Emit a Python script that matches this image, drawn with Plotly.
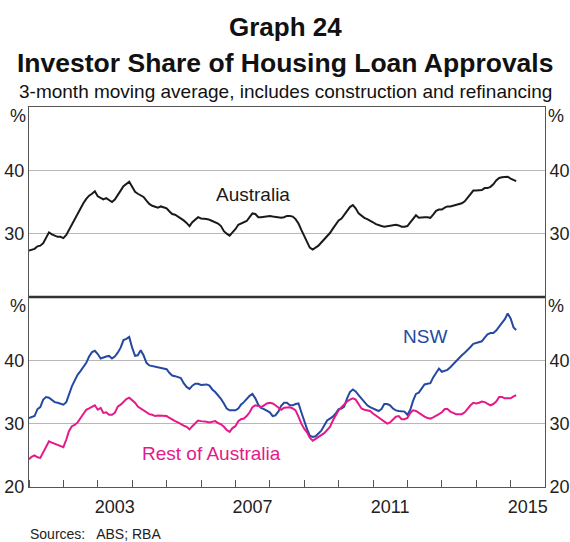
import pandas as pd
import plotly.graph_objects as go

# Monthly data, January 2001 to March 2015 (per cent)
months = pd.date_range("2001-01-01", periods=171, freq="MS")

australia = [
    27.35, 27.5, 27.6, 28.0, 28.1, 28.5, 29.3, 30.2, 29.9, 29.7, 29.5, 29.5,   # 2001
    29.3, 29.8, 30.6, 31.5, 32.3, 33.0, 34.0, 34.8, 35.5, 36.0, 36.3, 36.7,    # 2002
    35.9, 35.7, 35.4, 35.6, 35.3, 35.0, 35.4, 36.2, 36.8, 37.5, 37.8, 38.2,    # 2003
    37.4, 36.6, 36.3, 36.1, 35.8, 35.2, 34.7, 34.4, 34.3, 34.1, 34.3, 34.2,    # 2004
    34.0, 33.5, 33.1, 33.0, 32.7, 32.5, 32.1, 31.7, 31.2, 31.8, 32.2, 32.6,    # 2005
    32.4, 32.4, 32.3, 32.2, 32.0, 31.9, 31.6, 31.2, 30.4, 30.0, 29.7, 30.2,    # 2006
    30.7, 31.4, 31.6, 31.7, 32.0, 32.6, 33.2, 33.1, 32.6, 32.6, 32.7, 32.8,    # 2007
    32.8, 32.7, 32.6, 32.5, 32.5, 32.6, 32.8, 32.8, 32.7, 32.3, 31.6, 30.6,    # 2008
    29.6, 28.7, 27.8, 27.5, 27.8, 28.1, 28.6, 29.1, 29.6, 30.1, 30.8, 31.4,    # 2009
    32.1, 32.4, 33.0, 33.7, 34.2, 34.5, 34.0, 33.2, 32.8, 32.5, 32.3, 32.1,    # 2010
    31.8, 31.5, 31.3, 31.2, 31.1, 31.2, 31.2, 31.3, 31.4, 31.3, 31.1, 31.1,    # 2011
    31.2, 31.8, 32.3, 32.9, 32.5, 32.6, 32.6, 32.6, 32.5, 33.0, 33.6, 33.8,    # 2012
    33.8, 34.1, 34.3, 34.3, 34.4, 34.5, 34.6, 34.8, 35.1, 35.7, 36.2, 36.8,    # 2013
    36.8, 36.9, 36.9, 37.2, 37.2, 37.4, 37.8, 38.4, 38.8, 38.9, 39.0, 39.0,    # 2014
    38.7, 38.5, 38.3,                                                          # 2015
]

nsw = [
    30.9, 31.0, 31.2, 32.3, 32.6, 33.8, 34.2, 34.1, 33.8, 33.4, 33.3, 33.1,    # 2001
    33.0, 33.4, 34.6, 35.9, 36.8, 37.7, 38.3, 38.9, 39.6, 40.6, 41.3, 41.5,    # 2002
    41.0, 40.3, 40.5, 40.6, 40.7, 40.3, 40.6, 41.2, 42.0, 43.2, 43.4, 43.7,    # 2003
    42.0, 40.7, 40.8, 41.6, 40.8, 39.6, 39.2, 39.1, 39.0, 39.0, 38.9, 38.8,    # 2004
    38.6, 38.0, 37.6, 37.5, 37.4, 37.2, 36.4, 35.8, 35.5, 36.0, 36.3, 36.3,    # 2005
    36.1, 36.1, 36.2, 36.0, 35.4, 35.0, 34.5, 33.9, 33.2, 32.4, 32.1, 32.1,    # 2006
    32.1, 32.4, 33.0, 33.4, 33.9, 34.4, 34.7, 34.0, 33.0, 32.5, 32.3, 32.0,    # 2007
    31.8, 31.2, 31.3, 31.9, 32.8, 33.3, 33.3, 32.9, 32.9, 33.1, 33.2, 31.8,    # 2008
    30.3, 29.1, 28.1, 27.9, 28.0, 28.4, 28.9, 29.7, 30.5, 30.8, 31.1, 31.6,    # 2009
    32.3, 32.4, 32.7, 34.0, 35.0, 35.4, 35.1, 34.5, 33.9, 33.4, 32.9, 32.6,    # 2010
    32.4, 32.2, 32.0, 32.3, 33.1, 33.1, 32.9, 32.4, 32.1, 32.0, 32.0, 31.9,    # 2011
    31.4, 32.2, 33.6, 34.7, 34.9, 35.6, 36.2, 36.3, 36.4, 37.3, 38.1, 38.7,    # 2012
    38.2, 38.3, 38.5, 38.9, 39.4, 39.9, 40.4, 40.8, 41.2, 41.6, 42.1, 42.6,    # 2013
    42.7, 42.8, 43.0, 43.6, 44.1, 44.3, 44.3, 44.7, 45.4, 45.9, 46.5, 47.4,    # 2014
    46.6, 45.2, 44.8,                                                          # 2015
]

rest_of_australia = [
    24.4, 24.8, 25.0, 24.7, 24.6, 25.4, 26.2, 27.2, 27.0, 26.8, 26.7, 26.5,    # 2001
    26.3, 27.5, 28.8, 29.6, 29.8, 30.2, 30.8, 31.5, 32.2, 32.4, 32.6, 32.9,    # 2002
    32.2, 32.5, 31.7, 31.8, 31.4, 31.4, 31.7, 32.7, 33.0, 33.4, 33.9, 34.1,    # 2003
    33.7, 33.3, 32.7, 32.4, 32.0, 31.8, 31.5, 31.4, 31.2, 31.3, 31.3, 31.2,    # 2004
    31.2, 30.9, 30.6, 30.4, 30.2, 29.9, 29.7, 29.5, 29.1, 29.6, 30.1, 30.5,    # 2005
    30.4, 30.4, 30.3, 30.2, 30.3, 30.4, 30.1, 29.9, 29.5, 29.0, 28.7, 29.3,    # 2006
    29.6, 30.4, 30.7, 30.8, 31.2, 31.8, 32.6, 32.9, 32.8, 32.6, 32.9, 33.2,    # 2007
    33.3, 33.2, 32.9, 32.5, 32.2, 32.5, 32.6, 32.6, 32.4, 32.1, 31.1, 30.0,    # 2008
    29.2, 28.6, 27.8, 27.3, 27.6, 27.9, 28.2, 28.5, 29.0, 29.5, 30.5, 31.3,    # 2009
    32.1, 32.6, 33.1, 33.5, 33.8, 34.0, 33.8, 33.0, 32.4, 32.2, 32.1, 32.0,    # 2010
    31.6, 31.3, 31.0, 30.6, 30.3, 30.0, 30.2, 30.6, 31.1, 31.2, 30.7, 30.7,    # 2011
    30.9, 31.7, 32.1, 32.0, 31.7, 31.3, 31.1, 30.9, 30.8, 31.0, 31.2, 31.5,    # 2012
    31.8, 32.3, 32.3, 31.9, 31.7, 31.5, 31.5, 31.5, 31.8, 32.4, 32.9, 33.3,    # 2013
    33.2, 33.3, 33.5, 33.4, 33.2, 32.9, 33.1, 33.5, 34.2, 34.2, 34.0, 34.0,    # 2014
    34.0, 34.3, 34.5,                                                          # 2015
]

year_label_pos = ["2003-07-01", "2007-07-01", "2011-07-01", "2015-07-01"]
year_labels = ["2003", "2007", "2011", "2015"]
y_ticks_top = [30, 40]
y_ticks_bottom = [20, 30, 40]

BLACK = "#1a1a1a"
BLUE = "#2549a0"
PINK = "#e5198a"
FRAME = "#555555"
GRID = "#b8b8b8"
FONT = "Liberation Sans, Arial, sans-serif"

ML, MR, MT, MB = 29, 25, 107, 55
W, H = 570, 542
PH = H - MT - MB  # plot height in px
PW = W - ML - MR


def py(ypx):
    """pixel y from the top of the figure -> paper coordinate"""
    return (H - MB - ypx) / PH


def px(xpx):
    return (xpx - ML) / PW


fig = go.Figure()
fig.add_trace(go.Scatter(x=months, y=australia, mode="lines", line=dict(color=BLACK, width=2),
                         xaxis="x", yaxis="y", name="Australia"))
fig.add_trace(go.Scatter(x=months, y=nsw, mode="lines", line=dict(color=BLUE, width=2),
                         xaxis="x2", yaxis="y2", name="NSW"))
fig.add_trace(go.Scatter(x=months, y=rest_of_australia, mode="lines", line=dict(color=PINK, width=2),
                         xaxis="x2", yaxis="y2", name="Rest of Australia"))

xr = ["2001-01-01", "2016-01-01"]
tickfont = dict(family=FONT, size=18, color="#222222")

fig.update_layout(
    width=W, height=H,
    margin=dict(l=ML, r=MR, t=MT, b=MB, autoexpand=False),
    paper_bgcolor="white", plot_bgcolor="white",
    showlegend=False,
    font=dict(family=FONT, color="#222222"),
    xaxis=dict(domain=[0, 1], anchor="y", range=xr, type="date", showticklabels=False,
               ticks="", showgrid=False, zeroline=False, showline=True, mirror=True,
               linecolor=FRAME, linewidth=1, matches="x2", automargin=False),
    xaxis2=dict(domain=[0, 1], anchor="y2", range=xr, type="date",
                tickvals=year_label_pos, ticktext=year_labels, ticks="", tickfont=tickfont,
                ticklabelstandoff=3, automargin=False,
                minor=dict(dtick="M12", tick0="2001-01-01", ticks="inside", ticklen=7,
                           tickcolor=FRAME, tickwidth=1, showgrid=False),
                showgrid=False, zeroline=False, showline=True, mirror=True,
                linecolor=FRAME, linewidth=1),
    yaxis=dict(domain=[0.5, 1], anchor="x", range=[20, 50], tickvals=y_ticks_top, ticks="",
               tickfont=tickfont, showgrid=True, gridcolor=GRID, gridwidth=1, zeroline=False,
               showline=True, linecolor=FRAME, linewidth=1, automargin=False),
    yaxis3=dict(overlaying="y", side="right", anchor="x", range=[20, 50], tickvals=y_ticks_top,
                ticks="", tickfont=tickfont, showgrid=False, zeroline=False, automargin=False,
                showline=True, linecolor=FRAME, linewidth=1),
    yaxis2=dict(domain=[0, 0.5], anchor="x2", range=[20, 50], tickvals=y_ticks_bottom, ticks="",
                tickfont=tickfont, showgrid=True, gridcolor=GRID, gridwidth=1, zeroline=False,
                showline=True, linecolor=FRAME, linewidth=1, automargin=False),
    yaxis4=dict(overlaying="y2", side="right", anchor="x2", range=[20, 50], tickvals=y_ticks_bottom,
                ticks="", tickfont=tickfont, showgrid=False, zeroline=False, automargin=False,
                showline=True, linecolor=FRAME, linewidth=1),
)

# invisible traces so the right-hand axes render
fig.add_trace(go.Scatter(x=months[:1], y=australia[:1], mode="lines", xaxis="x", yaxis="y3",
                         line=dict(width=0), hoverinfo="skip", showlegend=False))
fig.add_trace(go.Scatter(x=months[:1], y=nsw[:1], mode="lines", xaxis="x2", yaxis="y4",
                         line=dict(width=0), hoverinfo="skip", showlegend=False))

# panel divider
fig.add_shape(type="line", xref="paper", yref="paper", x0=0, x1=1, y0=0.5, y1=0.5,
              line=dict(color="#333333", width=2.5))

titles = [
    ("<b>Graph 24</b>", 27, 26),
    ("<b>Investor Share of Housing Loan Approvals</b>", 63, 26.5),
    ("3-month moving average, includes construction and refinancing", 91, 19),
]
for text, ypx, size in titles:
    fig.add_annotation(text=text, xref="paper", yref="paper", x=px(W / 2), y=py(ypx),
                       showarrow=False, xanchor="center", yanchor="middle",
                       font=dict(family=FONT, size=size, color="#111111"))

# % unit labels
for ypx in [116, 306]:
    for xpx in [18, 556]:
        fig.add_annotation(text="%", xref="paper", yref="paper", x=px(xpx), y=py(ypx),
                           showarrow=False, xanchor="center", yanchor="middle",
                           font=dict(family=FONT, size=18, color="#222222"))

# series labels
fig.add_annotation(text="Australia", xref="x", yref="y", x="2007-07-10", y=36.2,
                   showarrow=False, font=dict(family=FONT, size=19, color=BLACK))
fig.add_annotation(text="NSW", xref="x2", yref="y2", x="2012-07-01", y=43.75,
                   showarrow=False, font=dict(family=FONT, size=19, color=BLUE))
fig.add_annotation(text="Rest of Australia", xref="x2", yref="y2", x="2006-04-20", y=25.25,
                   showarrow=False, font=dict(family=FONT, size=19, color=PINK))

# sources
fig.add_annotation(text="Sources:   ABS; RBA", xref="paper", yref="paper", x=px(28), y=py(534),
                   showarrow=False, xanchor="left", yanchor="middle",
                   font=dict(family=FONT, size=14, color="#222222"))

fig.write_html("out.html",
               config={"displayModeBar": False},
               post_script="document.body.style.margin='0';document.body.style.padding='0';")
